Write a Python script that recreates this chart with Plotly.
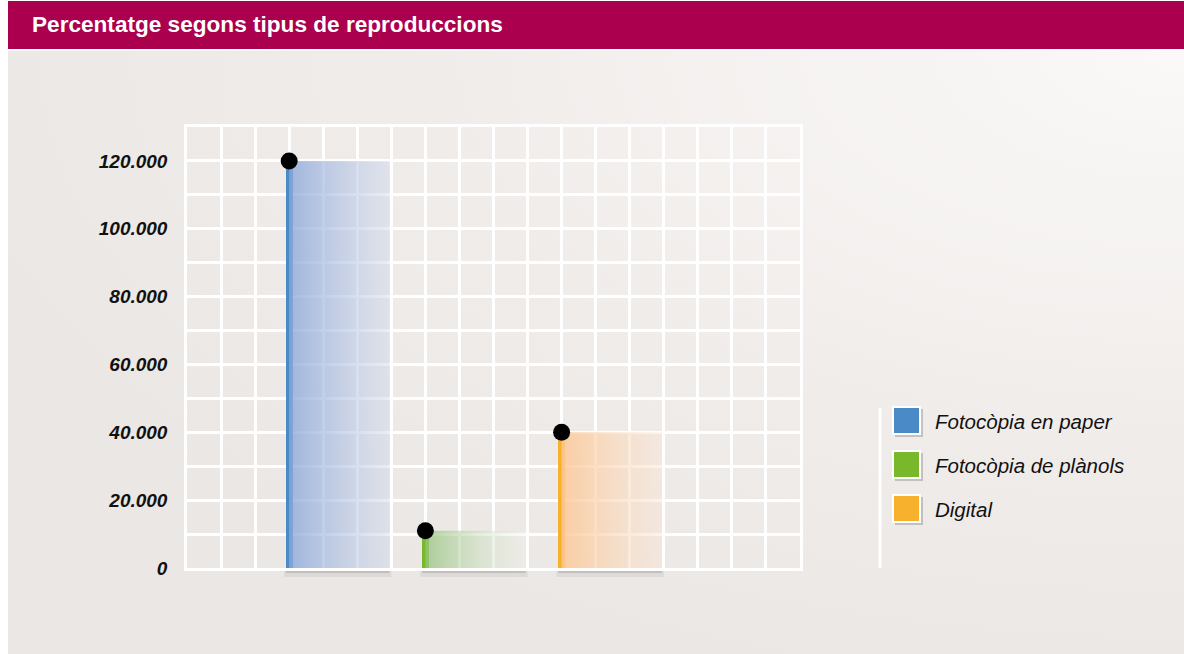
import plotly.graph_objects as go
import base64

# ---- data ----
categories = ["Fotocòpia en paper", "Fotocòpia de plànols", "Digital"]
values = [120000, 11000, 40000]
colors = ["#4A8AC6", "#78B82A", "#F8B12C"]
fill_left = ["rgba(140,168,218,0.80)", "rgba(150,196,125,0.75)", "rgba(252,200,150,0.85)"]
fill_right = ["rgba(205,215,235,0.45)", "rgba(240,242,236,0.30)", "rgba(248,228,212,0.45)"]
tick_vals = [0, 20000, 40000, 60000, 80000, 100000, 120000]
tick_text = ["0", "20.000", "40.000", "60.000", "80.000", "100.000", "120.000"]

W, H = 1184, 654
L, R, T, B = 187, 800, 127, 568  # plot area pixel box

def px(x):
    return (x - L) / (R - L)

def py(y):
    return (B - y) / (B - T)

fig = go.Figure()

pos = [3 + 4 * i for i in range(len(categories))]
fill_w = 2.95

# gradient fills (bar bodies)
for i, (c, v) in enumerate(zip(categories, values)):
    x0 = pos[i]
    x1 = pos[i] + fill_w
    fig.add_trace(go.Scatter(
        x=[x0, x1, x1, x0, x0], y=[0, 0, v, v, 0],
        mode="lines", line=dict(width=0), fill="toself",
        fillgradient=dict(type="horizontal",
                          colorscale=[[0, fill_left[i]], [1, fill_right[i]]]),
        hoverinfo="skip", showlegend=False))

# coloured strip at bar left edge
fig.add_trace(go.Bar(x=pos, y=values, width=0.2, marker=dict(color=colors, line=dict(width=0)),
                     showlegend=False, hoverinfo="skip"))

# black dots
fig.add_trace(go.Scatter(x=pos, y=values, mode="markers",
                         marker=dict(color="black", size=17), showlegend=False, hoverinfo="skip"))

shapes = []
annotations = []

# background gradient via svg image
svg = f'''<svg xmlns="http://www.w3.org/2000/svg" width="{W}" height="{H}">
<defs><radialGradient id="g" cx="1" cy="0" r="1.1">
<stop offset="0" stop-color="#FAF9F8"/><stop offset="0.6" stop-color="#F0ECEA"/><stop offset="1" stop-color="#EBE7E4"/>
</radialGradient></defs><rect width="{W}" height="{H}" fill="url(#g)"/></svg>'''
src = "data:image/svg+xml;base64," + base64.b64encode(svg.encode()).decode()

images = [dict(source=src, xref="paper", yref="paper",
               x=px(8), y=py(51), sizex=px(W) - px(8), sizey=py(51) - py(H),
               xanchor="left", yanchor="top", sizing="stretch", layer="below")]

# title bar
shapes.append(dict(type="rect", xref="paper", yref="paper", x0=px(8), x1=px(W + 5),
                   y0=py(49), y1=py(1), fillcolor="#AA004E", line=dict(width=0), layer="above"))
annotations.append(dict(text="<b>Percentatge segons tipus de reproduccions</b>", xref="paper", yref="paper",
                        x=px(30), y=py(24), xanchor="left", yanchor="middle", showarrow=False,
                        font=dict(family="Liberation Sans", size=22.6, color="white")))

# bottom shadows under bars
for i in range(len(categories)):
    shapes.append(dict(type="rect", xref="x", yref="paper", x0=pos[i] - 0.15, x1=pos[i] + fill_w + 0.05,
                       y0=py(577), y1=py(568), fillcolor="rgba(0,0,0,0.06)", line=dict(width=0), layer="below"))
    shapes.append(dict(type="rect", xref="x", yref="paper", x0=pos[i] - 0.1, x1=pos[i] + fill_w,
                       y0=py(573), y1=py(568), fillcolor="rgba(0,0,0,0.12)", line=dict(width=0), layer="below"))

# legend
shapes.append(dict(type="line", xref="paper", yref="paper", x0=px(880), x1=px(880),
                   y0=py(408), y1=py(568), line=dict(color="white", width=3)))
row_y = [421, 465, 509]
for i, c in enumerate(categories):
    cy = row_y[i]
    shapes.append(dict(type="rect", xref="paper", yref="paper", x0=px(895), x1=px(923),
                       y0=py(cy + 16), y1=py(cy - 12), fillcolor="rgba(0,0,0,0.18)", line=dict(width=0)))
    shapes.append(dict(type="rect", xref="paper", yref="paper", x0=px(893), x1=px(920),
                       y0=py(cy + 13), y1=py(cy - 14), fillcolor=colors[i], line=dict(color="white", width=2)))
    annotations.append(dict(text=f"<i>{c}</i>", xref="paper", yref="paper", x=px(933), y=py(cy),
                            xanchor="left", yanchor="middle", showarrow=False,
                            font=dict(family="Liberation Sans", size=20.5, color="#111111")))

fig.update_layout(
    width=W, height=H,
    margin=dict(l=L, r=W - R, t=T, b=H - B, pad=0),
    paper_bgcolor="white", plot_bgcolor="rgba(0,0,0,0)",
    shapes=shapes, annotations=annotations, images=images,
    bargap=0, showlegend=False,
    xaxis=dict(range=[0, 18], tickvals=list(range(19)), showticklabels=False, ticks="",
               showgrid=True, gridcolor="white", gridwidth=2.5, zeroline=False,
               showline=True, linecolor="white", linewidth=2.5, mirror=True, fixedrange=True),
    yaxis=dict(range=[0, 130000], tickvals=tick_vals,
               ticktext=[f"<b><i>{t}</i></b>" for t in tick_text],
               tickfont=dict(family="Liberation Sans", size=19, color="#111111"),
               ticks="outside", ticklen=13, tickcolor="rgba(0,0,0,0)",
               showgrid=True, gridcolor="white", gridwidth=2.5, zeroline=False,
               minor=dict(dtick=10000, showgrid=True, gridcolor="white", gridwidth=2.5, ticks=""),
               showline=True, linecolor="white", linewidth=2.5, mirror=True, fixedrange=True),
)

fig.write_html("out.html", config={"displayModeBar": False},
               post_script="document.body.style.margin='0';document.body.style.overflow='hidden';")
